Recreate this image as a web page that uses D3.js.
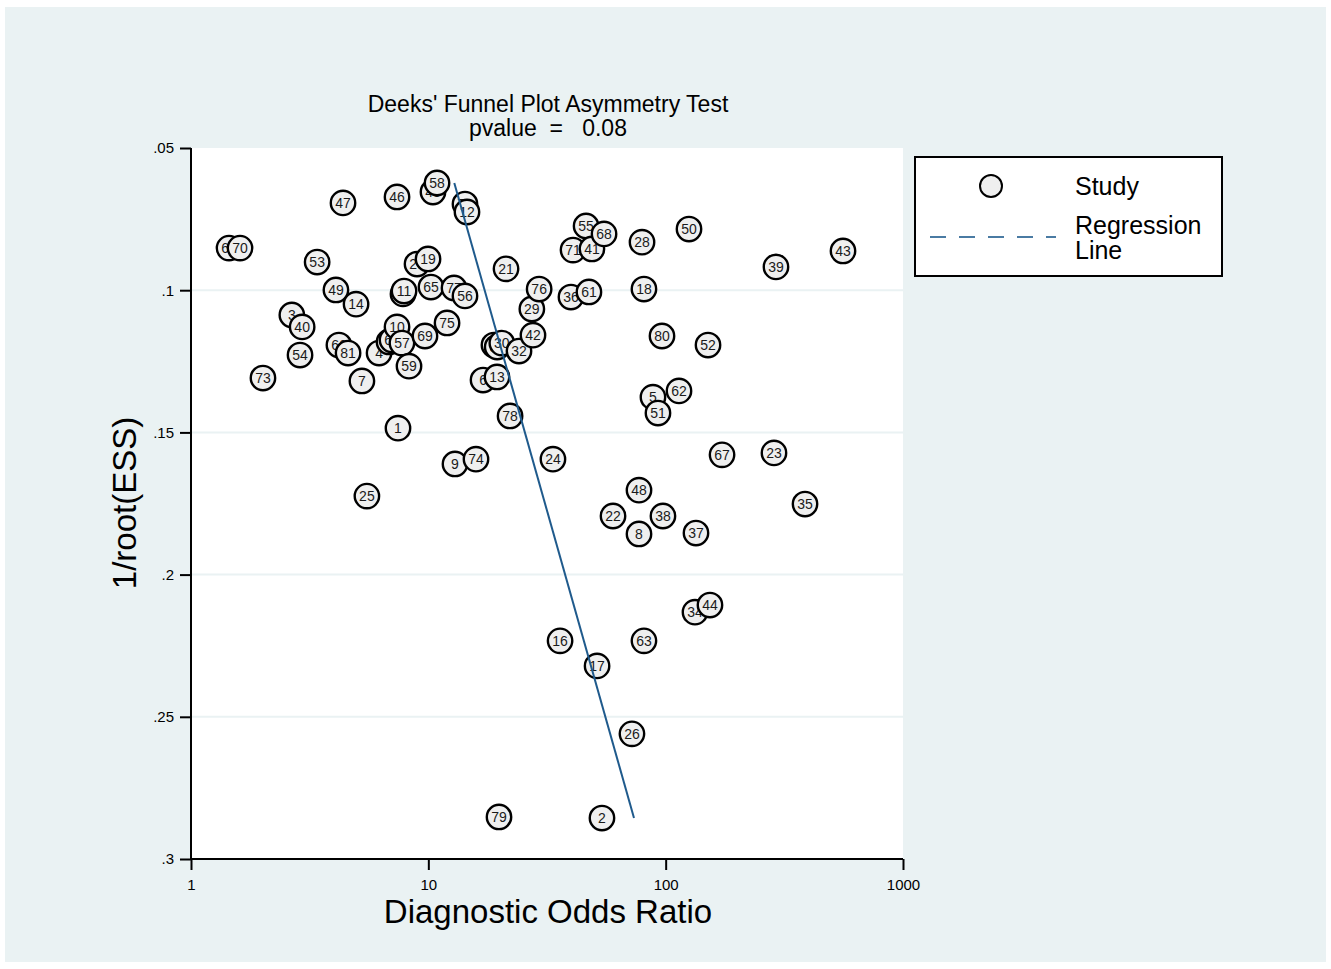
<!DOCTYPE html>
<html>
<head>
<meta charset="utf-8">
<script src="https://cdn.jsdelivr.net/npm/d3@7"></script>
<style>
  html, body { margin: 0; padding: 0; background: #ffffff; }
  svg { display: block; font-family: "Liberation Sans", Arial, Helvetica, sans-serif; }
</style>
</head>
<body>
<svg id="chart" width="1331" height="969"></svg>
<script>
// Study identifiers, diagnostic odds ratios and 1/sqrt(effective sample size)
const studyIds = [
  1, 2, 3, 4, 5, 6, 7, 8, 9, 10,
  11, 12, 13, 14, 15, 16, 17, 18, 19, 20,
  21, 22, 23, 24, 25, 26, 27, 28, 29, 30,
  31, 32, 33, 34, 35, 36, 37, 38, 39, 40,
  41, 42, 43, 44, 45, 46, 47, 48, 49, 50,
  51, 52, 53, 54, 55, 56, 57, 58, 59, 60,
  61, 62, 63, 64, 65, 66, 67, 68, 69, 70,
  71, 72, 73, 74, 75, 76, 77, 78, 79, 80, 81
];
const diagnosticOddsRatio = [
  7.45, 53.9, 2.66, 6.20, 88.4, 17.0, 5.25, 77.2, 12.95, 7.38,
  7.90, 14.55, 19.47, 4.96, 6.83, 35.9, 51.4, 81.0, 9.97, 8.96,
  21.25, 60.0, 286, 33.5, 5.51, 72.1, 7.82, 79.5, 27.3, 20.4,
  19.5, 24.1, 18.9, 132.9, 386.5, 39.9, 134.2, 97.4, 291.6, 2.94,
  48.9, 27.6, 558.7, 153.7, 10.46, 7.38, 4.37, 77.2, 4.08, 125.4,
  92.8, 150.8, 3.40, 2.88, 46.2, 14.27, 7.74, 10.88, 8.29, 7.03,
  47.5, 113.8, 81.0, 1.446, 10.26, 4.20, 172.8, 55.0, 9.68, 1.609,
  40.7, 14.27, 2.01, 15.88, 11.99, 29.3, 12.83, 22.1, 19.85, 96.5, 4.59
];
const invRootEss = [
  0.1485, 0.2856, 0.1087, 0.1221, 0.1376, 0.1316, 0.1319, 0.1857, 0.1611, 0.1129,
  0.1003, 0.0725, 0.1305, 0.1049, 0.1182, 0.2233, 0.2321, 0.0996, 0.0890, 0.0908,
  0.0925, 0.1794, 0.1572, 0.1594, 0.1724, 0.2560, 0.1013, 0.0831, 0.1066, 0.1186,
  0.1200, 0.1214, 0.1193, 0.2132, 0.1752, 0.1024, 0.1854, 0.1794, 0.0918, 0.1129,
  0.0855, 0.1158, 0.0862, 0.2107, 0.0655, 0.0672, 0.0693, 0.1703, 0.0999, 0.0785,
  0.1432, 0.1193, 0.0901, 0.1228, 0.0774, 0.1020, 0.1186, 0.0623, 0.1267, 0.1175,
  0.1006, 0.1354, 0.2233, 0.0852, 0.0989, 0.1193, 0.1579, 0.0802, 0.1161, 0.0852,
  0.0859, 0.0697, 0.1309, 0.1594, 0.1115, 0.0996, 0.0992, 0.1442, 0.2852, 0.1161, 0.1221
];

// Fitted regression: ln(DOR) = intercept + slope * 1/root(ESS)
const regIntercept = 2.068;
const regSlope = 7.808;

// Axis ticks
const xTicks = [1, 10, 100, 1000];
const xTickLabels = ["1", "10", "100", "1000"];
const yTicks = [0.05, 0.1, 0.15, 0.2, 0.25, 0.3];
const yTickLabels = [".05", ".1", ".15", ".2", ".25", ".3"];
const titleLines = ["Deeks' Funnel Plot Asymmetry Test", "pvalue  =   0.08"];

const svg = d3.select("#chart");
const W = 1331, H = 969;
const plot = { left: 191, right: 903, top: 148, bottom: 859 };

// Outer graph region
svg.append("rect").attr("x", 5).attr("y", 7).attr("width", W - 10).attr("height", H - 14)
  .attr("fill", "#eaf2f3");

// Plot region
svg.append("rect").attr("x", plot.left).attr("y", plot.top)
  .attr("width", plot.right - plot.left).attr("height", plot.bottom - plot.top)
  .attr("fill", "#ffffff");

const x = d3.scaleLog().domain([1, 1000]).range([plot.left, plot.right]);
const y = d3.scaleLinear().domain([0.05, 0.3]).range([plot.top, plot.bottom]);

// Horizontal grid lines
svg.append("g").selectAll("line")
  .data(yTicks.filter(t => t > 0.05 && t < 0.3))
  .join("line")
  .attr("x1", plot.left).attr("x2", plot.right)
  .attr("y1", d => y(d)).attr("y2", d => y(d))
  .attr("stroke", "#eaf2f3").attr("stroke-width", 2);

// Y axis
const yAxis = d3.axisLeft(y).tickValues(yTicks)
  .tickFormat((d, i) => yTickLabels[i]).tickSize(11).tickPadding(6);
const gy = svg.append("g").attr("transform", `translate(${plot.left},0)`).call(yAxis);
gy.select(".domain").attr("stroke", "#000").attr("stroke-width", 2)
  .attr("d", `M0,${plot.top}V${plot.bottom}`);
gy.selectAll(".tick line").attr("stroke", "#000").attr("stroke-width", 2);
gy.selectAll(".tick text").attr("font-size", 15).attr("fill", "#000")
  .attr("font-family", "Liberation Sans Narrow, Liberation Sans, Arial, sans-serif");

// X axis
const xAxis = d3.axisBottom(x).tickValues(xTicks)
  .tickFormat((d, i) => xTickLabels[i]).tickSize(11).tickPadding(9);
const gx = svg.append("g").attr("transform", `translate(0,${plot.bottom})`).call(xAxis);
gx.select(".domain").attr("stroke", "#000").attr("stroke-width", 2)
  .attr("d", `M${plot.left},0H${plot.right}`);
gx.selectAll(".tick line").attr("stroke", "#000").attr("stroke-width", 2);
gx.selectAll(".tick text").attr("font-size", 15).attr("fill", "#000")
  .attr("font-family", "Liberation Sans Narrow, Liberation Sans, Arial, sans-serif");

// Axis titles
svg.append("text").attr("x", 548).attr("y", 923).attr("text-anchor", "middle")
  .attr("font-size", 33).attr("fill", "#000").text("Diagnostic Odds Ratio");
svg.append("text").attr("transform", "translate(136,503) rotate(-90)")
  .attr("text-anchor", "middle").attr("font-size", 33).attr("fill", "#000")
  .text("1/root(ESS)");

// Chart title
svg.append("g").selectAll("text").data(titleLines).join("text")
  .attr("x", 548).attr("y", (d, i) => 112 + i * 24)
  .attr("text-anchor", "middle").attr("font-size", 23).attr("fill", "#000")
  .style("white-space", "pre").attr("xml:space", "preserve")
  .text(d => d);

// Study points, drawn in order of increasing DOR
const studies = studyIds.map((id, i) => ({ id, dor: diagnosticOddsRatio[i], v: invRootEss[i] }))
  .sort((a, b) => a.dor - b.dor);

const pts = svg.append("g").selectAll("g").data(studies).join("g")
  .attr("transform", d => `translate(${x(d.dor)},${y(d.v)})`);
pts.append("circle").attr("r", 12.2)
  .attr("fill", "#efefef").attr("stroke", "#000").attr("stroke-width", 2.4);
pts.append("text").attr("text-anchor", "middle").attr("dy", "0.37em")
  .attr("font-size", 14).attr("fill", "#1a1a1a").text(d => d.id);

// Regression line across the observed range of 1/root(ESS)
const vExtent = d3.extent(invRootEss);
const regLine = d3.line().x(d => x(Math.exp(regIntercept + regSlope * d))).y(d => y(d));
svg.append("path").datum(vExtent).attr("d", regLine)
  .attr("fill", "none").attr("stroke", "#1f5a8c").attr("stroke-width", 2);

// Legend
const lg = svg.append("g");
lg.append("rect").attr("x", 915).attr("y", 157).attr("width", 307).attr("height", 119)
  .attr("fill", "#ffffff").attr("stroke", "#000").attr("stroke-width", 2);
lg.append("circle").attr("cx", 991).attr("cy", 186).attr("r", 11)
  .attr("fill", "#efefef").attr("stroke", "#000").attr("stroke-width", 2);
lg.append("text").attr("x", 1075).attr("y", 195).attr("font-size", 25).attr("fill", "#000").text("Study");
lg.append("line").attr("x1", 930).attr("x2", 1056).attr("y1", 237).attr("y2", 237)
  .attr("stroke", "#4a7ba3").attr("stroke-width", 2).attr("stroke-dasharray", "16,13");
lg.append("text").attr("x", 1075).attr("y", 234).attr("font-size", 25).attr("fill", "#000").text("Regression");
lg.append("text").attr("x", 1075).attr("y", 259).attr("font-size", 25).attr("fill", "#000").text("Line");
</script>
</body>
</html>
